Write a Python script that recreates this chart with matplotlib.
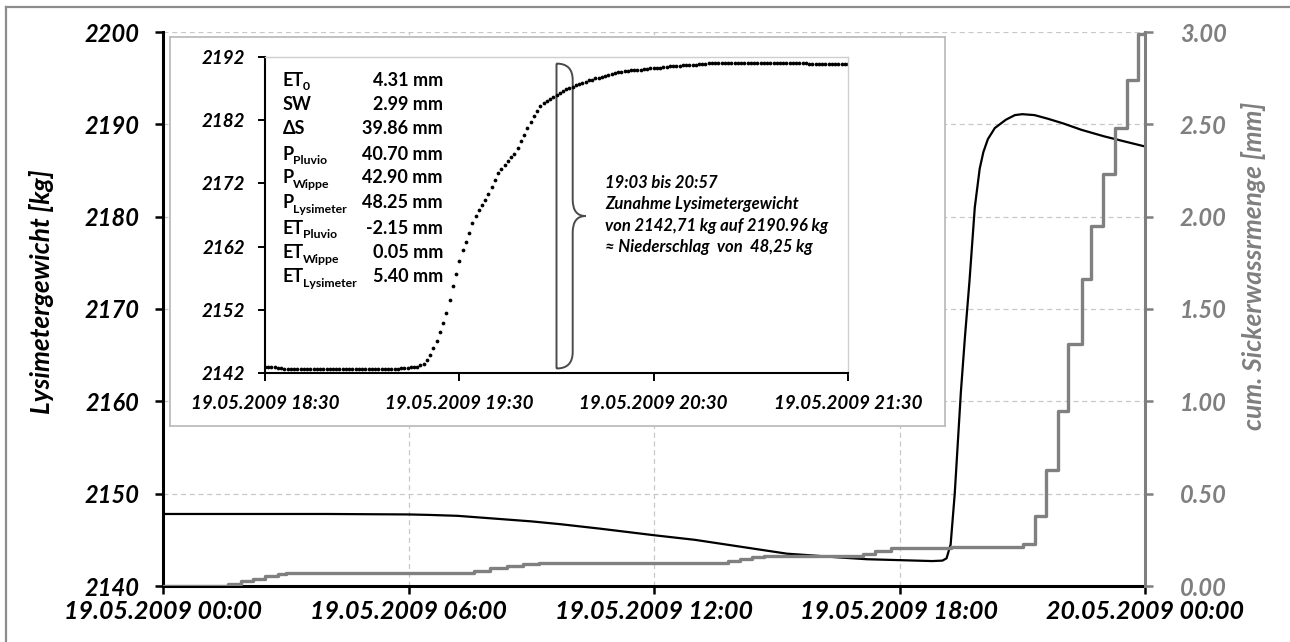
import numpy as np
import matplotlib
matplotlib.use("Agg")
import matplotlib.pyplot as plt
from matplotlib.path import Path
from matplotlib.patches import PathPatch
from matplotlib.lines import Line2D

plt.rcParams['font.family'] = ['Lato', 'DejaVu Sans']

# ---------------- data ----------------
# main chart: hours since 19.05.2009 00:00
weight_hours = [0, 2, 4, 6, 6.5, 7.2, 8.1, 9.0, 9.7, 10.7, 12.0, 13.0, 13.9, 15.25, 15.9,
                16.5, 17.2, 18.0, 18.8, 19.05, 19.15, 19.25, 19.35, 19.5, 19.6, 19.71, 19.84,
                19.96, 20.05, 20.16, 20.33, 20.6, 20.82, 21.0, 21.3, 21.63, 22.0, 22.45, 23.0,
                23.27, 24.0]
weight_kg = [2147.8, 2147.8, 2147.8, 2147.75, 2147.7, 2147.6, 2147.3, 2147.0, 2146.7, 2146.2,
             2145.5, 2145.0, 2144.4, 2143.5, 2143.3, 2143.1, 2142.9, 2142.8, 2142.7, 2142.75,
             2143.0, 2144.5, 2150.0, 2161.0, 2167.0, 2173.0, 2181.0, 2185.2, 2187.0, 2188.4,
             2189.6, 2190.5, 2191.0, 2191.1, 2191.0, 2190.6, 2190.1, 2189.4, 2188.7, 2188.4,
             2187.6]

seep_hours = [0, 1.6, 1.9, 2.2, 2.5, 2.8, 3.0, 7.6, 8.0, 8.4, 8.8, 9.2, 13.8, 14.1, 14.4,
              14.7, 17.1, 17.4, 17.8, 19.25, 21.02, 21.3, 21.59, 21.88, 22.12, 22.45, 22.69,
              22.98, 23.27, 23.55, 23.84, 24.0]
seep_mm = [0.0, 0.01, 0.025, 0.04, 0.055, 0.065, 0.069, 0.08, 0.095, 0.11, 0.12, 0.125,
           0.135, 0.145, 0.155, 0.162, 0.175, 0.19, 0.204, 0.213, 0.23, 0.38, 0.63, 0.95,
           1.31, 1.66, 1.95, 2.23, 2.48, 2.74, 2.99, 3.0]

main_xticks = [0, 6, 12, 18, 24]
main_xlabels = ["19.05.2009 00:00", "19.05.2009 06:00", "19.05.2009 12:00",
                "19.05.2009 18:00", "20.05.2009 00:00"]
main_yticks = [2140, 2150, 2160, 2170, 2180, 2190, 2200]
right_yticks = [0.0, 0.5, 1.0, 1.5, 2.0, 2.5, 3.0]

# inset: one reading per minute since 18:30
inset_kg = [
    2142.9, 2142.9, 2142.9, 2142.9, 2142.8, 2142.8, 2142.7, 2142.6, 2142.6, 2142.6,
    2142.6, 2142.6, 2142.6, 2142.6, 2142.6, 2142.6, 2142.6, 2142.6, 2142.6, 2142.6,
    2142.6, 2142.6, 2142.6, 2142.6, 2142.6, 2142.6, 2142.6, 2142.6, 2142.6, 2142.6,
    2142.6, 2142.6, 2142.6, 2142.6, 2142.6, 2142.6, 2142.7, 2142.7, 2142.7, 2142.7,
    2142.7, 2142.7, 2142.8, 2142.8, 2142.8, 2142.9, 2142.9, 2143.0, 2143.2, 2143.5,
    2144.1, 2144.9, 2146.0, 2147.0, 2148.5, 2149.9, 2151.5, 2153.5, 2155.8, 2157.6,
    2159.7, 2161.5, 2162.7, 2164.2, 2165.8, 2166.9, 2167.8, 2168.6, 2169.4, 2170.3,
    2171.4, 2172.5, 2173.6, 2174.3, 2174.9, 2175.5, 2176.1, 2176.7, 2177.6, 2178.7,
    2179.7, 2180.7, 2181.7, 2182.7, 2183.4, 2184.2, 2184.7, 2185.1, 2185.4, 2185.7,
    2186.0, 2186.3, 2186.6, 2186.9, 2187.1, 2187.3, 2187.5, 2187.7, 2187.9, 2188.1,
    2188.3, 2188.4, 2188.6, 2188.7, 2188.9, 2189.0, 2189.1, 2189.3, 2189.4, 2189.6,
    2189.7, 2189.8, 2189.8, 2189.9, 2189.9, 2190.0, 2190.0, 2190.1, 2190.1, 2190.2,
    2190.2, 2190.3, 2190.3, 2190.4, 2190.4, 2190.5, 2190.5, 2190.6, 2190.6, 2190.7,
    2190.7, 2190.8, 2190.8, 2190.8, 2190.9, 2190.9, 2190.9, 2191.0, 2191.0, 2191.1,
    2191.1, 2191.1, 2191.1, 2191.1, 2191.1, 2191.1, 2191.1, 2191.1, 2191.1, 2191.1,
    2191.1, 2191.1, 2191.1, 2191.1, 2191.1, 2191.1, 2191.1, 2191.1, 2191.1, 2191.1,
    2191.1, 2191.1, 2191.1, 2191.1, 2191.1, 2191.1, 2191.1, 2191.1, 2190.9, 2190.9,
    2190.9, 2190.9, 2190.9, 2190.9, 2190.9, 2190.9, 2190.9, 2190.9, 2190.9, 2190.9,
    2190.9]
inset_minutes = np.arange(len(inset_kg))
inset_xticks = [0, 60, 120, 180]
inset_xlabels = ["19.05.2009 18:30", "19.05.2009 19:30", "19.05.2009 20:30", "19.05.2009 21:30"]
inset_yticks = [2142, 2152, 2162, 2172, 2182, 2192]

stat_names = [("ET", "0"), ("SW", ""), ("\u0394S", ""), ("P", "Pluvio"), ("P", "Wippe"),
              ("P", "Lysimeter"), ("ET", "Pluvio"), ("ET", "Wippe"), ("ET", "Lysimeter")]
stat_values = ["4.31 mm", "2.99 mm", "39.86 mm", "40.70 mm", "42.90 mm", "48.25 mm",
               "-2.15 mm", "0.05 mm", "5.40 mm"]

note_lines = ["19:03 bis 20:57", "Zunahme Lysimetergewicht",
              "von 2142,71 kg auf 2190.96 kg", "\u2248 Niederschlag  von  48,25 kg"]
brace_start_kg, brace_end_kg = 2142.71, 2190.96

# ---------------- figure ----------------
W, H = 1290, 642
fig = plt.figure(figsize=(W / 100, H / 100), dpi=100)

def fx(px):
    return px / W

def fy(py):
    return 1 - py / H

GREY = '#7f7f7f'

# outer border (top & left)
fig.add_artist(Line2D([fx(6), 1], [fy(7), fy(7)], color='#8c8c8c', lw=1.6))
fig.add_artist(Line2D([fx(6), fx(6)], [0, fy(7)], color='#8c8c8c', lw=1.6))

L, R, T, B = 163, 1145, 32, 586
ax = fig.add_axes([fx(L), fy(B), fx(R - L), (B - T) / H])
ax2 = ax.twinx()
ax.set_zorder(1)
ax2.set_zorder(2)
ax.patch.set_visible(False)

ax.plot(weight_hours, weight_kg, color='black', lw=1.6, zorder=3)
ax2.plot(seep_hours, seep_mm, color='#808080', lw=2.4, drawstyle='steps-post', zorder=3)

ax.set_xlim(0, 24)
ax.set_ylim(2140, 2200)
ax2.set_ylim(0, 3)
ax.set_xticks(main_xticks)
ax.set_xticklabels(main_xlabels)
ax.set_yticks(main_yticks)
ax.set_yticklabels([str(v) for v in main_yticks])
ax2.set_yticks(right_yticks)
ax2.set_yticklabels([f"{v:.2f}" for v in right_yticks])

ax.grid(True, ls=(0, (4, 3)), color='#c8c8c8', lw=0.9)

for s in ['top', 'right']:
    ax.spines[s].set_visible(False)
for s in ['top', 'left', 'bottom']:
    ax2.spines[s].set_visible(False)
ax.spines['left'].set_linewidth(2.2)
ax.spines['bottom'].set_linewidth(2.2)
ax2.spines['right'].set_linewidth(2.2)
ax2.spines['right'].set_color(GREY)

ax.tick_params(axis='y', direction='out', length=6, width=1.8, pad=11)
ax.tick_params(axis='x', direction='out', length=6, width=1.8, pad=4)
ax2.tick_params(axis='y', direction='out', length=6, width=1.8, pad=19, colors=GREY)
for lab in ax.get_yticklabels():
    lab.set_fontsize(17); lab.set_fontweight('bold'); lab.set_fontstyle('italic')
for lab in ax.get_xticklabels():
    lab.set_fontsize(18); lab.set_fontweight('bold'); lab.set_fontstyle('italic')
for lab in ax2.get_yticklabels():
    lab.set_fontsize(17); lab.set_fontweight('bold'); lab.set_fontstyle('italic')
    lab.set_color(GREY)

fig.text(fx(42), fy(292), "Lysimetergewicht [kg]", rotation=90, ha='center', va='center',
         fontsize=19, fontweight='bold', fontstyle='italic', color='black')
fig.text(fx(1254), fy(266), "cum. Sickerwassrmenge [mm]", rotation=90, ha='center',
         va='center', fontsize=19, fontweight='bold', fontstyle='italic', color=GREY)

# ---------------- inset box ----------------
box = fig.add_axes([fx(170), fy(426), fx(945 - 170), (426 - 37) / H])
box.set_zorder(3)
box.set_xticks([]); box.set_yticks([])
box.set_facecolor('white')
for s in box.spines.values():
    s.set_color('#bdbdbd'); s.set_linewidth(1.3)

iL, iR, iT, iB = 265, 848, 57, 373
axi = fig.add_axes([fx(iL), fy(iB), fx(iR - iL), (iB - iT) / H])
axi.set_zorder(4)
axi.patch.set_visible(False)
axi.plot(inset_minutes, inset_kg, ls='none', marker='o', ms=2.7, color='black',
         markeredgewidth=0)
axi.set_xlim(0, 180)
axi.set_ylim(2142, 2192)
axi.set_xticks(inset_xticks)
axi.set_xticklabels(inset_xlabels)
axi.set_yticks(inset_yticks)
axi.set_yticklabels([str(v) for v in inset_yticks])
for s in ['top', 'right']:
    axi.spines[s].set_color('#cfcfcf'); axi.spines[s].set_linewidth(1.0)
for s in ['left', 'bottom']:
    axi.spines[s].set_color('black'); axi.spines[s].set_linewidth(1.5)
axi.tick_params(axis='y', direction='out', length=5, width=1.4, pad=9)
axi.tick_params(axis='x', direction='out', length=6, width=1.4, pad=10)
for lab in axi.get_xticklabels() + axi.get_yticklabels():
    lab.set_fontsize(13.5); lab.set_fontweight('bold'); lab.set_fontstyle('italic')

# brace
xv, xa, xt = 90, 95, 99
top, bot = brace_end_kg, brace_start_kg
mid = (top + bot) / 2
r = 2.6
verts = [(xv, bot), (xv, top),
         (xv, top), (xa, top), (xa, top - r),
         (xa, mid + r), (xa, mid), (xt, mid),
         (xa, mid), (xa, mid - r),
         (xa, bot + r), (xa, bot), (xv, bot)]
codes = [Path.MOVETO, Path.LINETO,
         Path.MOVETO, Path.CURVE3, Path.CURVE3,
         Path.LINETO, Path.CURVE3, Path.CURVE3,
         Path.CURVE3, Path.CURVE3,
         Path.LINETO, Path.CURVE3, Path.CURVE3]
axi.add_patch(PathPatch(Path(verts, codes), facecolor='none', edgecolor='#4a4a4a', lw=1.4))

# statistics block
row_px = [80, 104, 129, 154, 178, 203, 228, 253, 277]
for (name, sub), val, ypx in zip(stat_names, stat_values, row_px):
    t = fig.text(fx(283), fy(ypx), name, ha='left', va='center', fontsize=13,
                 fontweight='bold', zorder=10)
    if sub:
        axi.annotate(sub, xy=(1, 0.0), xycoords=t, xytext=(-0.8, 1.5),
                     textcoords='offset points', ha='left', va='center',
                     fontsize=8.8, fontweight='bold', annotation_clip=False)
    fig.text(fx(443), fy(ypx), val, ha='right', va='center', fontsize=13,
             fontweight='bold', zorder=10)

note_px = [183, 204, 226, 247]
for line, ypx in zip(note_lines, note_px):
    fig.text(fx(605), fy(ypx), line, ha='left', va='center', fontsize=12,
             fontweight='bold', fontstyle='italic', zorder=10)

fig.savefig("out.png", dpi=100)
